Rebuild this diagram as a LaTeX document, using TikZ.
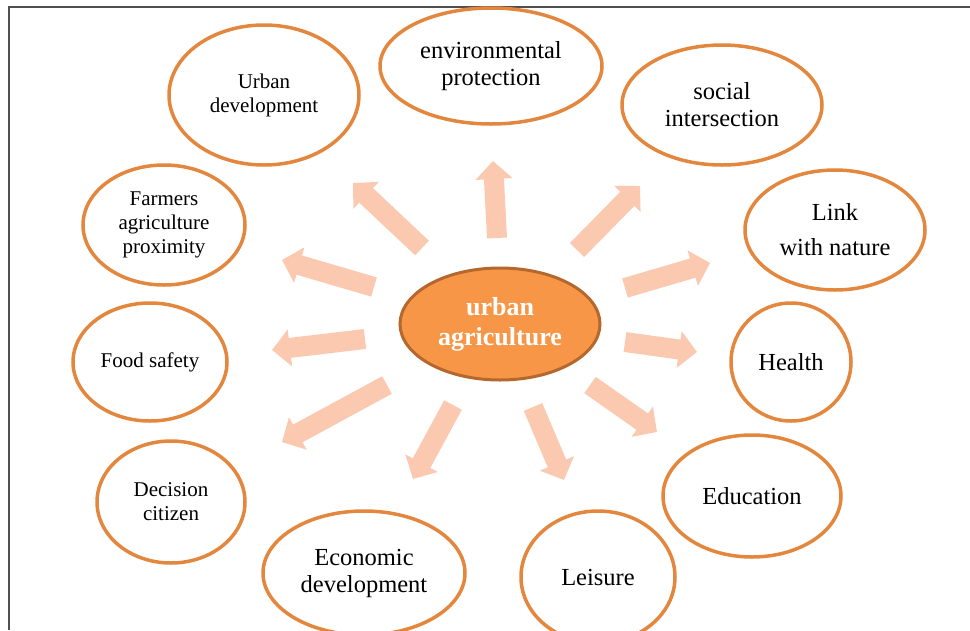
\documentclass[tikz,border=0pt]{standalone}
\usepackage{fontspec}
\setmainfont{Liberation Serif}
\usetikzlibrary{shapes.geometric,arrows.meta}
\definecolor{coreorange}{RGB}{247,150,70}
\definecolor{coreedge}{RGB}{180,104,46}
\definecolor{ringorange}{RGB}{228,135,62}
\definecolor{rayfill}{RGB}{250,201,176}
\definecolor{framegray}{RGB}{80,80,80}
\tikzset{
  topic/.style={ellipse, draw=ringorange, line width=3.5pt, inner sep=0pt,
    align=center, font=\fontsize{21}{24}\selectfont},
  bigtopic/.style={topic, font=\fontsize{24.5}{27}\selectfont},
  core/.style={ellipse, draw=coreedge, fill=coreorange, line width=3pt,
    inner sep=0pt, align=center, text=white,
    font=\bfseries\fontsize{26}{30}\selectfont},
  ray/.style={draw=rayfill, line width=20pt,
    -{Triangle[length=18pt,width=36pt]}}
}
\begin{document}
\begin{tikzpicture}[x=1pt,y=-1pt]
  \useasboundingbox (0,0) rectangle (970,630);
  \draw[framegray, line width=2pt] (9,630) -- (9,7) -- (970,7);
  % centre
  \node[core, minimum width=200pt, minimum height=112pt] (ua) at (500,324) {urban\\agriculture};
  % topics round it
  \node[topic, minimum width=190pt, minimum height=140pt] (udev) at (264,95) {Urban\\development};
  \node[bigtopic, minimum width=222pt, minimum height=116pt] (envp) at (491,66) {environmental\\protection};
  \node[bigtopic, minimum width=200pt, minimum height=120pt] (social) at (722,105) {social\\intersection};
  \node[bigtopic, minimum width=180pt, minimum height=120pt] (nature) at (835,230) {Link\\[8pt]with nature};
  \node[bigtopic, minimum width=120pt, minimum height=118pt] (health) at (791,362) {Health};
  \node[bigtopic, minimum width=178pt, minimum height=122pt] (edu) at (752,496) {Education};
  \node[bigtopic, minimum width=154pt, minimum height=132pt] (leisure) at (598,577) {Leisure};
  \node[bigtopic, minimum width=202pt, minimum height=124pt] (econ) at (364,573) {Economic\\development};
  \node[topic, minimum width=148pt, minimum height=122pt] (decision) at (171,502) {Decision\\citizen};
  \node[topic, minimum width=154pt, minimum height=118pt] (food) at (150,362) {Food safety};
  \node[topic, minimum width=162pt, minimum height=120pt] (farmers) at (164,225) {Farmers\\agriculture\\proximity};
  % rays out of the centre
  \foreach \name/\tx/\ty/\hx/\hy in {
      up/497/238/493/161,
      upleft/422/248/353/183,
      leftup/374/287/282/260,
      left/365/339/272/350,
      leftdown/387/385/282/442,
      downleft/453/405/413/479,
      down/533/407/564/480,
      downright/590/385/657/432,
      right/625/342/697/352,
      rightup/625/288/710/263,
      upright/577/250/640/186} {
    \coordinate (\name-tail) at (\tx,\ty);
    \coordinate (\name-tip) at (\hx,\hy);
    \draw[ray] (\name-tail) -- (\name-tip);
  }
\end{tikzpicture}
\end{document}
